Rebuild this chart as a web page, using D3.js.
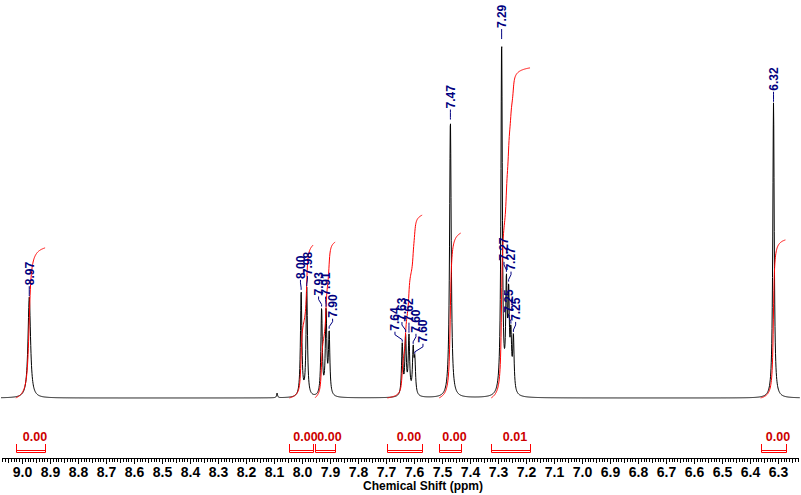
<!DOCTYPE html>
<html><head><meta charset="utf-8">
<script src="https://cdn.jsdelivr.net/npm/d3@7"></script>
<style>body{margin:0;background:#fff} svg{display:block}</style>
</head><body>
<svg id="c" width="801" height="495"></svg>
<script>
// ---- data ----
const peakShifts  = [8.974, 8.089, 8.003, 7.983, 7.930, 7.914, 7.903, 7.642, 7.630, 7.618, 7.603, 7.597, 7.470, 7.287, 7.270, 7.262, 7.254, 7.245, 6.316];
const peakHeights = [28,    1.3,   29,    30,    24,    23,    17,    14,    16,    16,    12,    9,     77,    98,    28,    25,    14,    15,    82];
const peakHWHM    = [0.0055,0.002, 0.003, 0.003, 0.003, 0.003, 0.003, 0.003, 0.003, 0.003, 0.003, 0.003, 0.0035,0.003, 0.003, 0.003, 0.003, 0.003, 0.003];
const peakLabels  = ["8.97", null, "8.00", "7.98", "7.93", "7.91", "7.90", "7.64", "7.63", "7.62", "7.60", "7.60", "7.47", "7.29", "7.27", "7.27", "7.25", "7.25", "6.32"];
const integralFrom    = [9.022, 8.045, 7.953, 7.695, 7.510, 7.324, 6.362];
const integralTo      = [8.917, 7.960, 7.881, 7.570, 7.433, 7.185, 6.273];
const integralHeights = [41.7,  42.5,  43.3,  50.8,  45.8,  91.7,  43.9];
const integralLabels  = ["0.00","0.00","0.00","0.00","0.00","0.01","0.00"];
const tickValues = [9.0, 8.9, 8.8, 8.7, 8.6, 8.5, 8.4, 8.3, 8.2, 8.1, 8.0, 7.9, 7.8, 7.7, 7.6, 7.5, 7.4, 7.3, 7.2, 7.1, 7.0, 6.9, 6.8, 6.7, 6.6, 6.5, 6.4, 6.3];
const axisTitle = "Chemical Shift (ppm)";

// ---- drawing ----
const svg = d3.select("#c");
const x = d3.scaleLinear().domain([9.0714, 6.225]).range([2, 799]);
const y = d3.scaleLinear().domain([0, 100]).range([398, 38]);

function spec(p) {
  let s = 0;
  for (let i = 0; i < peakShifts.length; i++) {
    const d = (p - peakShifts[i]) / peakHWHM[i];
    s += peakHeights[i] / (1 + d * d);
  }
  return s;
}

// spectrum
const step = 0.25 / 280;
const pts = d3.range(x.invert(1), x.invert(800), -step).map(p => [p, spec(p)]);
svg.append("path")
  .attr("d", d3.line().x(d => x(d[0])).y(d => y(d[1]))(pts))
  .attr("fill", "none").attr("stroke", "#000").attr("stroke-width", 1);

// integral curves
integralFrom.forEach((f, k) => {
  const t = integralTo[k];
  const ps = d3.range(f, t, -step);
  let cum = 0;
  const vals = ps.map(p => { cum += spec(p); return cum; });
  const total = cum;
  const data = ps.map((p, i) => [p, vals[i] / total * integralHeights[k]]);
  svg.append("path")
    .attr("d", d3.line().x(d => x(d[0])).y(d => y(d[1]))(data))
    .attr("fill", "none").attr("stroke", "#ff0000").attr("stroke-width", 1);
});

// peak labels with collision avoidance
const navy = "#000080";
const labs = peakShifts.map((p, i) => ({p, text: peakLabels[i], px: x(p), top: y(spec(p))}))
  .filter(d => d.text)
  .sort((a, b) => a.px - b.px);
labs.forEach(d => { d.lx = d.px; d.bottom = Math.max(d.top - 12, 27); d.len = 24; });
const sep = 7;
for (let it = 0; it < 200; it++) {
  for (let i = 0; i < labs.length; i++) {
    for (let j = i + 1; j < labs.length; j++) {
      const a = labs[i], b = labs[j];
      const vOverlap = !(a.bottom - a.len > b.bottom || b.bottom - b.len > a.bottom);
      const dx = b.lx - a.lx;
      if (vOverlap && dx < sep) {
        const m = (sep - dx) / 2;
        a.lx -= m; b.lx += m;
      }
    }
  }
}
const lg = svg.append("g");
labs.forEach(d => {
  const path = d3.path();
  path.moveTo(d.lx, d.bottom + 1);
  path.lineTo(d.lx, d.bottom + 4);
  path.lineTo(d.px, d.bottom + 9);
  path.lineTo(d.px, Math.max(d.top - 1, d.bottom + 9));
  lg.append("path").attr("d", path.toString())
    .attr("fill", "none").attr("stroke", navy).attr("stroke-width", 1);
  lg.append("text")
    .attr("transform", `translate(${d.lx},${d.bottom}) rotate(-90)`)
    .attr("dy", "0.36em")
    .attr("text-anchor", "start")
    .attr("fill", navy)
    .attr("font-family", "'Liberation Sans', Arial, sans-serif")
    .attr("font-weight", "bold")
    .attr("font-size", "12px")
    .text(d.text);
});

// integral brackets
const bg = svg.append("g");
integralFrom.forEach((f, k) => {
  const x1 = Math.round(x(f)) + 0.5, x2 = Math.round(x(integralTo[k])) + 0.5;
  bg.append("path")
    .attr("d", `M${x1},444 V452.5 H${x2} V444 M${x1},450.5 H${x2}`)
    .attr("fill", "none").attr("stroke", "#ff0000").attr("stroke-width", 1);
  bg.append("text")
    .attr("x", (x1 + x2) / 2 + 4).attr("y", 441)
    .attr("text-anchor", "middle")
    .attr("fill", "#cc0000")
    .attr("font-family", "'Liberation Sans', Arial, sans-serif")
    .attr("font-weight", "bold")
    .attr("font-size", "12.5px")
    .text(integralLabels[k]);
});

// axis
const ax = svg.append("g").attr("transform", "translate(0,458)");
const lo = 6.23, hi = 9.07;
const minor = d3.range(Math.round(lo * 100), Math.round(hi * 100) + 1).map(v => v / 100)
  .filter(v => Math.round(v * 100) % 10 !== 0);
const mid = minor.filter(v => Math.round(v * 100) % 5 === 0);
ax.append("g").call(d3.axisBottom(x).tickValues(minor).tickSize(4).tickFormat(""))
  .call(g => g.select(".domain").remove());
ax.append("g").call(d3.axisBottom(x).tickValues(mid).tickSize(5).tickFormat(""))
  .call(g => g.select(".domain").remove());
ax.append("g").call(d3.axisBottom(x).tickValues(tickValues).tickSize(6).tickSizeOuter(0).tickPadding(3).tickFormat(d3.format(".1f")))
  .call(g => g.selectAll("text")
    .attr("font-family", "'Liberation Sans', Arial, sans-serif")
    .attr("font-weight", "bold").attr("font-size", "14px").attr("fill", "#000"))
  .call(g => g.select(".domain").attr("d", "M2,0.5H799"));
ax.selectAll("line").attr("stroke", "#000").attr("shape-rendering", "crispEdges");

svg.append("text")
  .attr("x", 423).attr("y", 490)
  .attr("text-anchor", "middle")
  .attr("font-family", "'Liberation Sans', Arial, sans-serif")
  .attr("font-weight", "bold").attr("font-size", "12px")
  .text(axisTitle);
</script>
</body></html>
